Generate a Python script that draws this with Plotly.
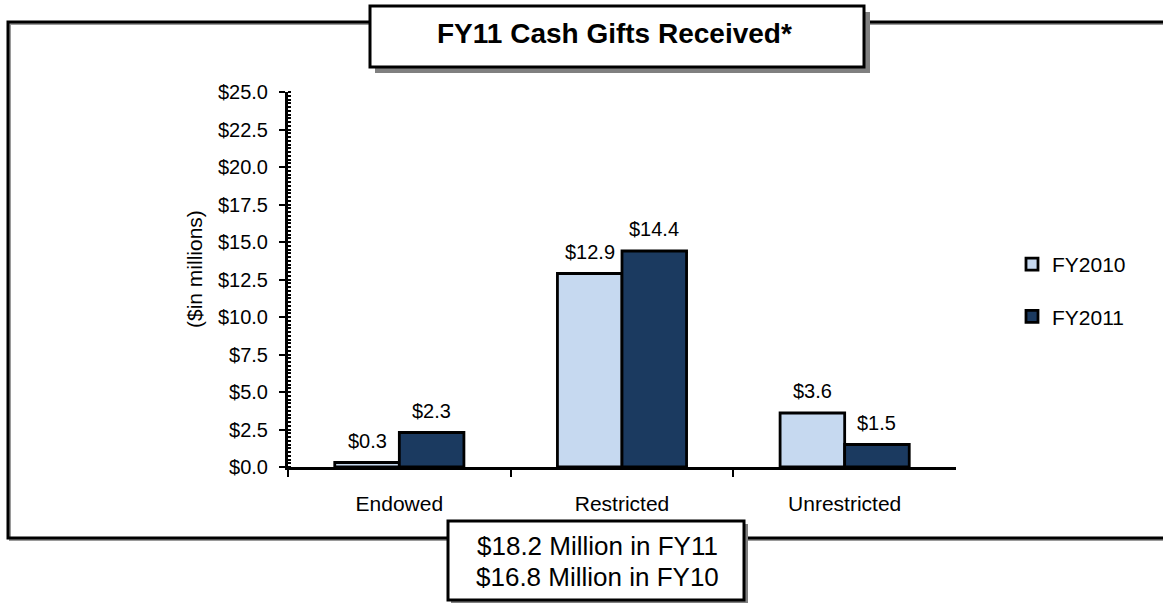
import plotly.graph_objects as go

categories = ["Endowed", "Restricted", "Unrestricted"]
fy2010 = [0.3, 12.9, 3.6]
fy2011 = [2.3, 14.4, 1.5]
series_names = ["FY2010", "FY2011"]
colors = ["#C6D9F0", "#1B3A60"]
y_ticks = [0, 2.5, 5, 7.5, 10, 12.5, 15, 17.5, 20, 22.5, 25]
y_ticklabels = ["$%.1f" % v for v in y_ticks]
y_title = "($in millions)"
title_text = "FY11 Cash Gifts Received*"
summary_lines = ["$18.2 Million in FY11", "$16.8 Million in FY10"]

W, H = 1163, 604
FONT = "Arial, Liberation Sans, sans-serif"


def px(x):
    return x / W


def py(y):
    return 1 - y / H


fig = go.Figure()
series = [fy2010, fy2011]
for i, (name, vals) in enumerate(zip(series_names, series)):
    fig.add_trace(go.Bar(
        x=categories, y=vals, name=name,
        marker=dict(color=colors[i], line=dict(color="black", width=2.8)),
        legendgroup=name, hoverinfo="x+y+name",
    ))

annotations = []
# data labels, placed above each bar via the data axes
for i, vals in enumerate(series):
    shift = -32 if i == 0 else 32
    for c, v in zip(categories, vals):
        annotations.append(dict(
            text="$%.1f" % v, x=c, y=v, xref="x", yref="y",
            xshift=shift, yshift=22, xanchor="center", yanchor="middle",
            showarrow=False, font=dict(family=FONT, size=20, color="black")))

shapes = []
# outer frame (shadow + line)
shapes.append(dict(type="rect", xref="paper", yref="paper",
                   x0=px(10), x1=px(1175), y0=py(540), y1=py(24),
                   line=dict(color="#9a9a9a", width=2), fillcolor="rgba(0,0,0,0)", layer="above"))
shapes.append(dict(type="rect", xref="paper", yref="paper",
                   x0=px(8), x1=px(1175), y0=py(538), y1=py(22),
                   line=dict(color="black", width=3), fillcolor="rgba(0,0,0,0)", layer="above"))
# title box shadow + box
shapes.append(dict(type="rect", xref="paper", yref="paper",
                   x0=px(375), x1=px(870), y0=py(73), y1=py(12),
                   line=dict(color="#808080", width=0), fillcolor="#808080", layer="above"))
shapes.append(dict(type="rect", xref="paper", yref="paper",
                   x0=px(370), x1=px(864), y0=py(67), y1=py(6),
                   line=dict(color="black", width=3), fillcolor="white", layer="above"))
# summary box shadow + box
shapes.append(dict(type="rect", xref="paper", yref="paper",
                   x0=px(451), x1=px(748), y0=py(603), y1=py(524),
                   line=dict(color="#808080", width=0), fillcolor="#808080", layer="above"))
shapes.append(dict(type="rect", xref="paper", yref="paper",
                   x0=px(448), x1=px(744), y0=py(600), y1=py(521),
                   line=dict(color="black", width=3), fillcolor="white", layer="above"))

annotations += [
    dict(text="<b>%s</b>" % title_text, xref="paper", yref="paper",
         x=px(614), y=py(33), xanchor="center", yanchor="middle", showarrow=False,
         font=dict(family=FONT, size=28, color="black")),
    dict(text=summary_lines[0], xref="paper", yref="paper",
         x=px(597), y=py(546), xanchor="center", yanchor="middle", showarrow=False,
         font=dict(family=FONT, size=26, color="black")),
    dict(text=summary_lines[1], xref="paper", yref="paper",
         x=px(597), y=py(577), xanchor="center", yanchor="middle", showarrow=False,
         font=dict(family=FONT, size=26, color="black")),
    dict(text=y_title, xref="paper", yref="paper", textangle=-90,
         x=px(194), y=py(269), xanchor="center", yanchor="middle", showarrow=False,
         font=dict(family=FONT, size=21, color="black")),
]

fig.update_layout(
    width=W, height=H,
    margin=dict(l=0, r=0, t=0, b=0, autoexpand=False),
    paper_bgcolor="white", plot_bgcolor="rgba(0,0,0,0)",
    barmode="group", bargap=0.42, bargroupgap=0,
    font=dict(family=FONT, size=20, color="black"),
    showlegend=True,
    legend=dict(x=px(1012), y=py(244), xanchor="left", yanchor="top",
                font=dict(family=FONT, size=21, color="black"),
                tracegroupgap=22, traceorder="grouped",
                itemwidth=30, bgcolor="rgba(0,0,0,0)"),
    xaxis=dict(domain=[px(288), px(956)], showline=True, linecolor="black", linewidth=2.5,
               ticks="outside", tickson="boundaries", ticklen=7, tickwidth=2, tickcolor="black",
               ticklabelstandoff=16, showgrid=False, zeroline=False, automargin=False,
               tickfont=dict(family=FONT, size=21, color="black"), fixedrange=True),
    yaxis=dict(domain=[py(467), py(92)], range=[0, 25], showline=True, linecolor="black",
               linewidth=3, tickvals=y_ticks, ticktext=y_ticklabels, ticks="outside",
               ticklen=6, tickwidth=2, tickcolor="black", showgrid=False, zeroline=False,
               minor=dict(dtick=0.25, ticks="inside", ticklen=3, tickwidth=1.5, tickcolor="black",
                          showgrid=False),
               ticklabelstandoff=7, automargin=False,
               tickfont=dict(family=FONT, size=20, color="black"),
               fixedrange=True),
    shapes=shapes, annotations=annotations,
)

fig.write_html("out.html", config={"displayModeBar": False},
               post_script="document.body.style.margin='0';document.body.style.padding='0';")
